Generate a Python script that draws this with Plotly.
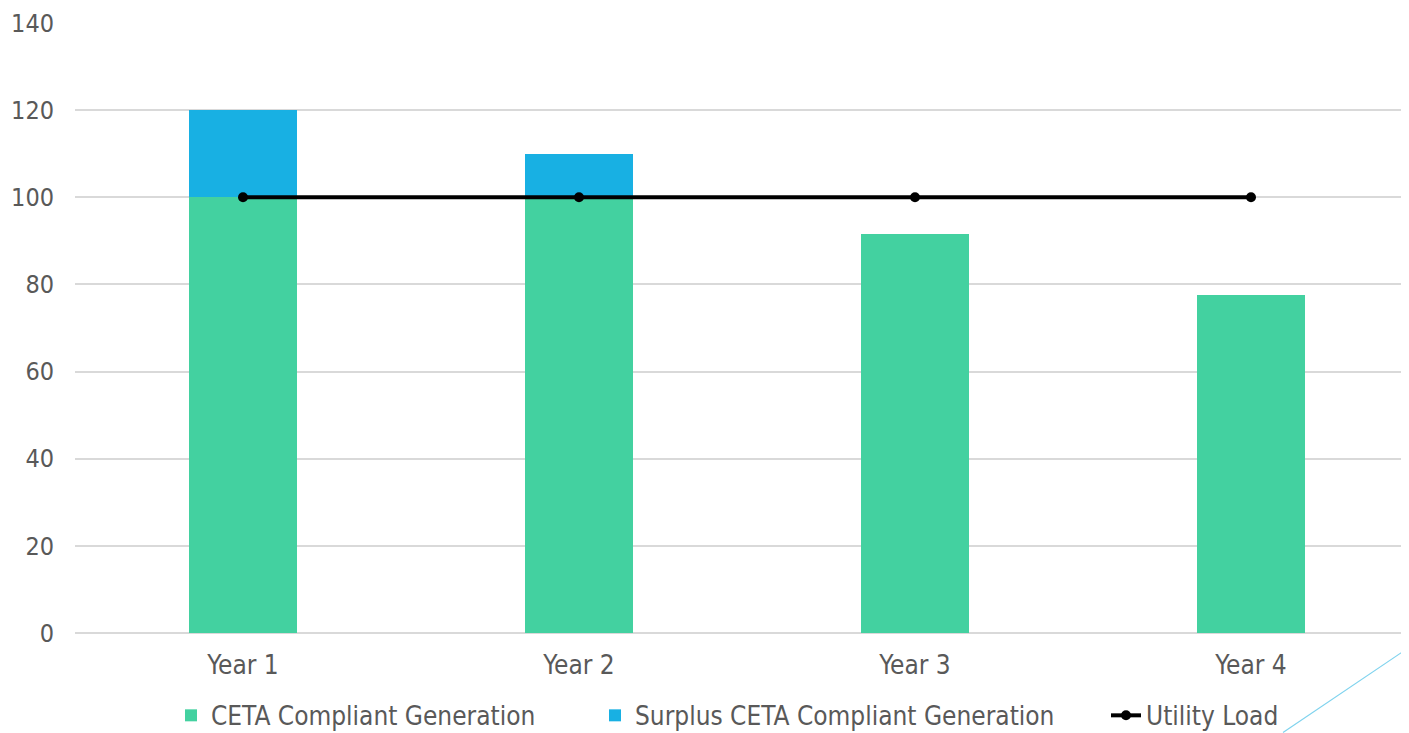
import plotly.graph_objects as go

categories = ["Year 1", "Year 2", "Year 3", "Year 4"]
ceta_compliant = [100, 100, 91.6, 77.6]
surplus_ceta = [20, 10, 0, 0]
utility_load = [100, 100, 100, 100]
y_ticks = [0, 20, 40, 60, 80, 100, 120, 140]

FONT = "DejaVu Sans Condensed"
FS = 25
FSX = 26
TXT = "#595959"
GREEN = "#43D1A0"
BLUE = "#18B0E3"

# page body has an 8px margin; compensate so the plot lands where the reference has it
L, T = 67, 15
W, H = 1401, 725
PW = 1334           # plot width in px
PH = 610.5          # plot height in px
B = H - T - PH


def px_x(p):
    return (p - 8 - L) / PW


def px_y(p):
    return (T + PH - (p - 8)) / PH


fig = go.Figure()
fig.add_trace(go.Bar(x=categories, y=ceta_compliant, name="CETA Compliant Generation",
                     marker=dict(color=GREEN, line=dict(width=0)), legend="legend"))
fig.add_trace(go.Bar(x=categories, y=surplus_ceta, name="Surplus CETA Compliant Generation",
                     marker=dict(color=BLUE, line=dict(width=0)), legend="legend2"))
fig.add_trace(go.Scatter(x=categories, y=utility_load, name="Utility Load", mode="lines+markers",
                         line=dict(color="black", width=4), marker=dict(color="black", size=10),
                         legend="legend3"))

leg_common = dict(orientation="h", yanchor="middle", y=px_y(716), xanchor="left",
                  font=dict(family=FONT, size=FSX, color=TXT), bgcolor="rgba(0,0,0,0)")

fig.update_layout(
    width=W, height=H,
    margin=dict(l=L, r=0, t=T, b=B, autoexpand=False),
    paper_bgcolor="white", plot_bgcolor="white",
    barmode="stack", bargap=0.68,
    showlegend=True,
    font=dict(family=FONT, size=FS, color=TXT),
    legend=dict(x=px_x(171), **leg_common),
    legend2=dict(x=px_x(595), **leg_common),
    legend3=dict(x=px_x(1106), **leg_common),
    xaxis=dict(range=[-0.5, 3.5 - 10 / 336], showgrid=False, zeroline=False, showline=False,
               ticks="", ticklabelstandoff=14, tickfont=dict(family=FONT, size=FSX, color=TXT)),
    yaxis=dict(range=[0, 140], tickvals=y_ticks, showgrid=True, gridcolor="#D9D9D9", gridwidth=1.5,
               zeroline=True, zerolinecolor="#D9D9D9", zerolinewidth=1.5, showline=False,
               ticks="", ticklabelstandoff=20, tickfont=dict(family=FONT, size=FS, color=TXT)),
    shapes=[dict(type="line", xref="paper", yref="paper",
                 x0=px_x(1283), y0=px_y(733), x1=px_x(1409), y1=px_y(648),
                 line=dict(color="#7FD3EE", width=1.2))],
)

fig.write_html("out.html")
